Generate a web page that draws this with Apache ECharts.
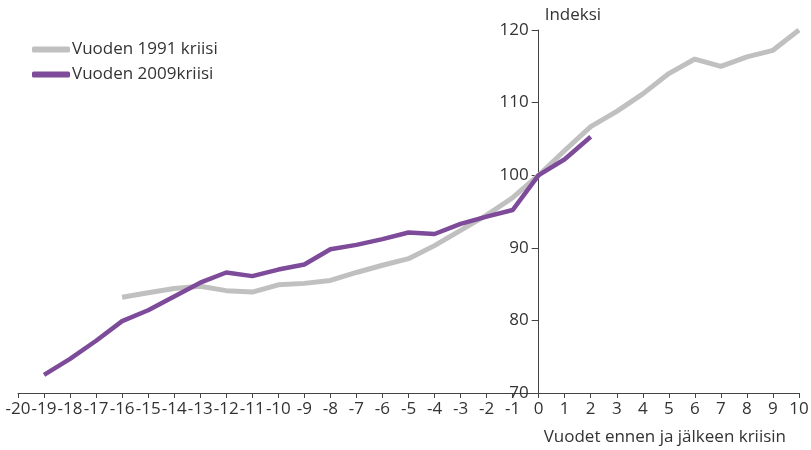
<!DOCTYPE html>
<html>
<head>
<meta charset="utf-8">
<script src="https://cdn.jsdelivr.net/npm/echarts@6/dist/echarts.min.js"></script>
<style>
  html, body { margin: 0; padding: 0; background: #fff; }
  #chart { width: 811px; height: 450px; }
</style>
</head>
<body>
<div id="chart"></div>
<script>
// vuodet ennen ja jälkeen kriisin
const years1991 = [-16, -15, -14, -13, -12, -11, -10, -9, -8, -7, -6, -5, -4, -3, -2, -1, 0, 1, 2, 3, 4, 5, 6, 7, 8, 9, 10];
const index1991 = [83.2, 83.8, 84.4, 84.7, 84.1, 83.9, 84.9, 85.1, 85.5, 86.6, 87.6, 88.5, 90.3, 92.4, 94.5, 96.9, 100, 103.4, 106.7, 108.8, 111.2, 114.0, 116.0, 115.0, 116.3, 117.2, 120.0];

const years2009 = [-19, -18, -17, -16, -15, -14, -13, -12, -11, -10, -9, -8, -7, -6, -5, -4, -3, -2, -1, 0, 1, 2];
const index2009 = [72.5, 74.7, 77.2, 79.9, 81.4, 83.3, 85.2, 86.6, 86.1, 87.0, 87.7, 89.8, 90.4, 91.2, 92.1, 91.9, 93.3, 94.3, 95.2, 100, 102.2, 105.3];

const xMin = -20, xMax = 10;
const yTicks = [70, 80, 90, 100, 110, 120];

const pairs = (xs, ys) => xs.map((x, i) => [x, ys[i]]);

const chart = echarts.init(document.getElementById('chart'));
const font = '"Open Sans", "Noto Sans", sans-serif';
const textColor = '#333';
const gridLeft = 18;
const fs = 17;

chart.setOption({
  animation: false,
  textStyle: { fontFamily: font },
  grid: { left: gridLeft, right: 12, top: 30, bottom: 57, containLabel: false, outerBoundsMode: 'none' },
  legend: {
    left: 32,
    top: 41,
    padding: 0,
    orient: 'vertical',
    icon: 'roundRect',
    itemWidth: 38,
    itemHeight: 6,
    itemGap: 8,
    textStyle: { fontSize: fs, color: textColor, padding: [0, 0, 0, -3] },
    data: ['Vuoden 1991 kriisi', 'Vuoden 2009kriisi']
  },
  xAxis: {
    type: 'value',
    min: xMin,
    max: xMax,
    interval: 1,
    splitLine: { show: false },
    axisLine: { onZero: false, lineStyle: { color: '#444', width: 1 } },
    axisTick: { show: true, length: 5, lineStyle: { color: '#444' } },
    axisLabel: { color: textColor, fontSize: fs, margin: 8, interval: 0, hideOverlap: false },
    name: 'Vuodet ennen ja jälkeen kriisin',
    nameLocation: 'end',
    nameGap: -13,
    nameTextStyle: { color: textColor, fontSize: fs, align: 'right', verticalAlign: 'top', padding: [36, 0, 0, 0] }
  },
  yAxis: {
    type: 'value',
    min: yTicks[0],
    max: yTicks[yTicks.length - 1],
    interval: 10,
    splitLine: { show: false },
    axisLine: { show: true, onZero: false, lineStyle: { color: '#444', width: 1 } },
    axisTick: { show: true, length: 7, lineStyle: { color: '#444' } },
    axisLabel: { color: textColor, fontSize: fs, margin: 10 },
    name: 'Indeksi',
    nameLocation: 'end',
    nameGap: 6,
    nameTextStyle: { color: textColor, fontSize: fs, align: 'left', padding: [0, 0, 0, 6] }
  },
  series: [
    {
      name: 'Vuoden 1991 kriisi',
      type: 'line',
      data: pairs(years1991, index1991),
      showSymbol: false,
      symbol: 'none',
      lineStyle: { color: '#c0c0c0', width: 5 },
      itemStyle: { color: '#c0c0c0' }
    },
    {
      name: 'Vuoden 2009kriisi',
      type: 'line',
      data: pairs(years2009, index2009),
      showSymbol: false,
      symbol: 'none',
      lineStyle: { color: '#7e4b9a', width: 4.5 },
      itemStyle: { color: '#7e4b9a' }
    }
  ]
});

// siirretään y-akseli kohtaan x = 0
const zeroX = chart.convertToPixel({ xAxisIndex: 0 }, 0);
chart.setOption({ yAxis: { offset: -(zeroX - gridLeft) } });
</script>
</body>
</html>
